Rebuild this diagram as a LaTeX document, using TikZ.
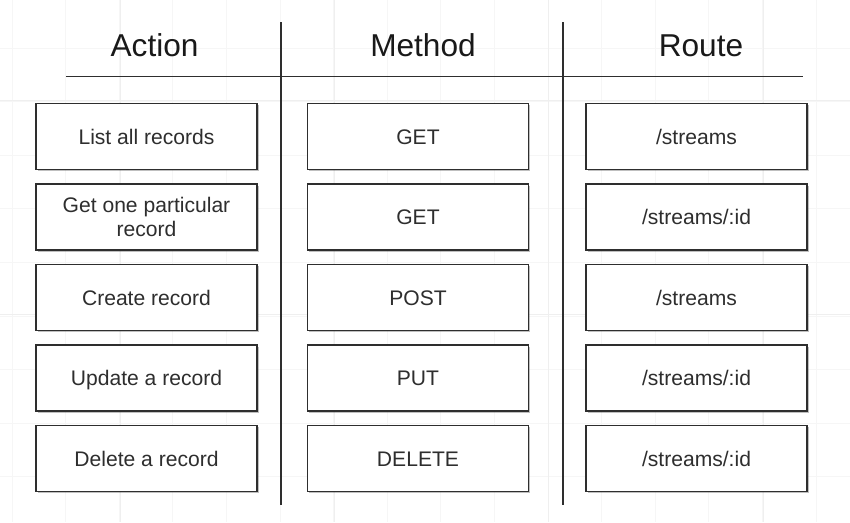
\documentclass[tikz,border=0pt]{standalone}
\usepackage{fontspec}
\setmainfont{Liberation Sans}
\usetikzlibrary{shadows}
\definecolor{ink}{HTML}{2E2E2E}
\definecolor{gridminor}{HTML}{F6F6F6}
\definecolor{gridmajor}{HTML}{EFEFEF}

\begin{document}
\begin{tikzpicture}[x=0.02cm, y=-0.02cm,
  cell/.style={draw=ink, line width=0.6pt, fill=white, minimum width=4.42cm, minimum height=1.32cm,
    text=ink, font=\fontsize{12}{13.6}\selectfont, align=center,
    drop shadow={shadow xshift=0.035cm, shadow yshift=-0.035cm, fill=black, opacity=0.25}},
  oneline/.style={text height=8.6pt, text depth=0pt},
  twoline/.style={},
  head/.style={font=\fontsize{18}{20}\selectfont, text=black!90, anchor=base},
  rule/.style={ink, line width=1pt}]
\useasboundingbox[fill=white] (0,0) rectangle (850,522);
% background grid
\foreach \x in {0,...,15} \draw[gridminor] ({12+53.6*\x},0) -- ++(0,522);
\foreach \y in {0,...,10} \draw[gridminor] (0,{-5.6+53.6*\y}) -- ++(850,0);
\foreach \x in {120,334.4,548.8,763.2} \draw[gridmajor] (\x,0) -- ++(0,522);
\foreach \y in {100,314.4} \draw[gridmajor] (0,\y) -- ++(850,0);
% headers and rules
\node[head] (hAction) at (154.6,56) {Action};
\node[head] (hMethod) at (423,56) {Method};
\node[head] (hRoute) at (701,56) {Route};
\draw[rule] (66,76.5) -- (803,76.5);
\draw[rule] (281,22) -- (281,505);
\draw[rule] (563,22) -- (563,505);
% rows
\foreach \act/\meth/\route/\ystyle [count=\i] in {
  List all records/GET/{/streams}/oneline,
  {Get one particular\\record}/GET/{/streams/:id}/twoline,
  Create record/POST/{/streams}/oneline,
  Update a record/PUT/{/streams/:id}/oneline,
  Delete a record/DELETE/{/streams/:id}/oneline} {
 \node[cell, \ystyle] (act\i) at (146.5,{136.5+80.5*(\i-1)}) {\act};
 \node[cell, oneline] (meth\i) at (418,{136.5+80.5*(\i-1)}) {\meth};
 \node[cell, oneline] (route\i) at (696.5,{136.5+80.5*(\i-1)}) {\route};
}
\end{tikzpicture}
\end{document}
